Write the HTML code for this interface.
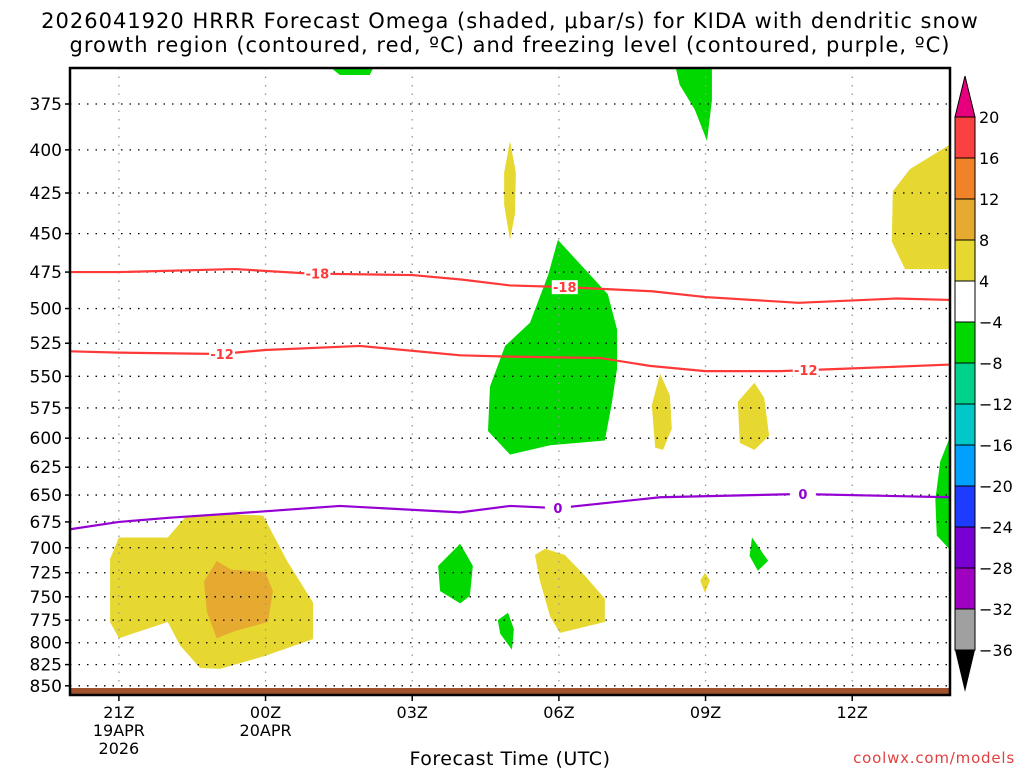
<!DOCTYPE html>
<html><head><meta charset="utf-8"><style>
body{margin:0;background:#fff;}
svg text{font-family:"DejaVu Sans","Liberation Sans",sans-serif;}
</style></head><body>
<svg id="c" width="1024" height="768" xmlns="http://www.w3.org/2000/svg">
<text x="510" y="28" text-anchor="middle" font-size="21" letter-spacing="1">2026041920 HRRR Forecast Omega (shaded, μbar/s) for KIDA with dendritic snow</text>
<text x="510" y="52" text-anchor="middle" font-size="21" letter-spacing="1">growth region (contoured, red, ºC) and freezing level (contoured, purple, ºC)</text>
<g id="plot"></g>
<text x="510" y="765" text-anchor="middle" font-size="19" letter-spacing="0.5">Forecast Time (UTC)</text>
<text x="1015" y="763" text-anchor="end" font-size="15" fill="#e04040" letter-spacing="0.8">coolwx.com/models</text>
</svg>
<script>
const pTicks=[375,400,425,450,475,500,525,550,575,600,625,650,675,700,725,750,775,800,825,850];
const xTickHours=[1,4,7,10,13,16];
const xTickLabels=["21Z","00Z","03Z","06Z","09Z","12Z"];
const xSubLabels=[["19APR","2026"],["20APR"],[],[],[],[]];
const cbLevels=[20,16,12,8,4,-4,-8,-12,-16,-20,-24,-28,-32,-36];
const cbColors=["#fa4040","#f08228","#e6aa30","#e6d830","#ffffff","#00d800","#00d28c","#00c8c8","#00a0ff","#1e3cff","#7800d2","#a000c0","#a0a0a0"];
// shaded regions: [hour, pressure]
const yellowBlobs=[
 [[1,690],[2,690],[2.35,671],[2.97,667],[3.95,669],[4.44,713],[4.97,756],[4.97,796],[3.99,815],[3.07,830],[2.66,829],[2.25,803],[2,777],[1,795],[0.82,777],[0.82,711]],
 [[9,395],[9.12,413],[9.1,438],[9,454],[8.88,432],[8.88,413]],
 [[18,397],[17.18,411],[16.83,424],[16.81,455],[17.08,473],[18,473]],
 [[12.07,548],[12.27,565],[12.31,592],[12.13,610],[11.97,608],[11.9,573]],
 [[14,555],[14.2,567],[14.3,598],[14,610],[13.7,604],[13.66,570]],
 [[9.72,701],[10.12,707],[10.53,728],[10.94,752],[10.94,777],[10.02,789],[9.82,771],[9.61,733],[9.51,707]],
 [[12.99,725],[13.09,733],[12.99,746],[12.89,733]]
];
const orangeBlobs=[
 [[3,713],[3.3,722],[3.99,724],[4.15,744],[4.05,777],[3.37,787],[3,795],[2.8,766],[2.74,734]]
];
const greenBlobs=[
 [[9.98,454],[11,490],[11.19,515],[11.19,544],[11.08,572],[10.94,602],[9.82,606],[9,614],[8.55,594],[8.59,558],[8.9,527],[9.41,510],[9.78,477]],
 [[12.33,350],[13.13,350],[13.13,373],[13.03,395],[12.78,378],[12.47,365]],
 [[5.01,350],[6.34,350],[6.13,360],[5.52,360]],
 [[18,599],[17.8,620],[17.7,654],[17.73,688],[18,702]],
 [[7.98,696],[8.24,718],[8.18,749],[7.98,757],[7.57,744],[7.53,718]],
 [[8.96,767],[9.08,785],[9.04,808],[8.8,790],[8.75,775]],
 [[13.95,690],[14.28,713],[14.07,723],[13.9,708]]
];
const c18Hours=[0,1,3.37,4.9,7,8,9,10,11.9,13,14.9,16.9,18];
const c18Press=[475,475,473,476,477,480,484,485,488,492,496,493,494];
const c12Hours=[0,1,3.07,3.99,5.93,7.98,9,10.84,11.86,12.99,14.52,15.95,18];
const c12Press=[531,532,533,530,527,534,535,536,542,546,546,544,541];
const c0Hours=[0,1,2.05,3.99,5.52,7.98,9,9.98,12.07,14.93,18];
const c0Press=[682,675,671,665,660,666,660,662,652,649,652];
const c18Labels=[[5.06,"-18"],[10.12,"-18"]];
const c12Labels=[[3.11,"-12"],[15.05,"-12"]];
const c0Labels=[[9.98,"0"],[14.99,"0"]];

const L=70,R=950,T=68,B=695;
const X=h=>L+h*(R-L)/18;
const Y=p=>104+Math.log(p/375)*711;
const NS="http://www.w3.org/2000/svg";
const g=document.getElementById('plot');
function mk(t,a,parent){const e=document.createElementNS(NS,t);for(const k in a)e.setAttribute(k,a[k]);(parent||g).appendChild(e);return e;}
const clip=mk('clipPath',{id:'pc'});mk('rect',{x:L,y:T,width:R-L,height:B-T},clip);
const area=mk('g',{'clip-path':'url(#pc)'});
function poly(pts,col,name){const e=mk('polygon',{points:pts.map(q=>X(q[0])+','+Y(q[1])).join(' '),fill:col},area);

}
yellowBlobs.forEach(b=>poly(b,cbColors[3],'omega-region-4-8'));
orangeBlobs.forEach(b=>poly(b,cbColors[2],'omega-region-8-12'));
greenBlobs.forEach(b=>poly(b,cbColors[5],'omega-region-neg8-neg4'));
// grid
pTicks.forEach(p=>{const y=Y(p);
 const l=mk('line',{x1:L,x2:R,y1:y,y2:y,stroke:'#000','stroke-width':1.3,'stroke-dasharray':'1.5 7'},area);
 
 
 const t=mk('text',{x:62,y:y+6,'text-anchor':'end','font-size':17});t.textContent=p;
 
 
 mk('line',{x1:L-5,x2:L,y1:y,y2:y,stroke:'#000','stroke-width':1.5});
});
xTickHours.forEach((h,i)=>{const x=X(h);
 const l=mk('line',{x1:x,x2:x,y1:T,y2:B,stroke:'#999','stroke-width':1.3,'stroke-dasharray':'1.5 7'},area);
 
 
 mk('line',{x1:x,x2:x,y1:B,y2:B+6,stroke:'#000','stroke-width':1.5});
 const t=mk('text',{x:x,y:718,'text-anchor':'middle','font-size':16});t.textContent=xTickLabels[i];
 
 
 xSubLabels[i].forEach((s,j)=>{const u=mk('text',{x:x,y:736+j*18,'text-anchor':'middle','font-size':16});u.textContent=s;
 
 });
});
// ground
const gr=mk('rect',{x:L,y:688,width:R-L,height:B-688,fill:'#a0522d'},area);


function line(hs,ps,col,name,labels){
 const d=hs.map((h,i)=>(i?'L':'M')+X(h)+' '+Y(ps[i])).join(' ');
 const e=mk('path',{d:d,fill:'none',stroke:col,'stroke-width':2.2},area);
 
 
 labels.forEach(lb=>{const h=lb[0];let p=ps[0];for(let i=1;i<hs.length;i++){if(h<=hs[i]){const f=(h-hs[i-1])/(hs[i]-hs[i-1]);p=ps[i-1]+f*(ps[i]-ps[i-1]);break;}}
  mk('rect',{x:X(h)-13,y:Y(p)-7,width:26,height:14,fill:'#fff'},area);
  const t=mk('text',{x:X(h),y:Y(p)+5,'text-anchor':'middle','font-size':13,'font-weight':'bold',fill:col},area);t.textContent=lb[1];
  
  });
}
line(c18Hours,c18Press,'#ff3838','contour-minus18',c18Labels);
line(c12Hours,c12Press,'#ff3838','contour-minus12',c12Labels);
line(c0Hours,c0Press,'#9400d3','freezing-level-0',c0Labels);
const fr=mk('rect',{x:L,y:T,width:R-L,height:B-T,fill:'none',stroke:'#000','stroke-width':2.5});


// colorbar
const cb=mk('g',{});
const cx=955,cw=20,ct=117,seg=41;
const tp=mk('polygon',{points:`${cx},${ct} ${cx+cw},${ct} ${cx+cw/2},76`,fill:'#e6007e',stroke:'#000','stroke-width':1},cb);

cbColors.forEach((c,i)=>{mk('rect',{x:cx,y:ct+i*seg,width:cw,height:seg,fill:c,stroke:'#000','stroke-width':1},cb);});
const bt=ct+cbColors.length*seg;
const bp=mk('polygon',{points:`${cx},${bt} ${cx+cw},${bt} ${cx+cw/2},692`,fill:'#000'},cb);

cbLevels.forEach((v,i)=>{const t=mk('text',{x:979,y:ct+i*seg+6,'font-size':16},cb);t.textContent=(v<0?'\u2212'+(-v):v);
 
 });
</script>
</body></html>
